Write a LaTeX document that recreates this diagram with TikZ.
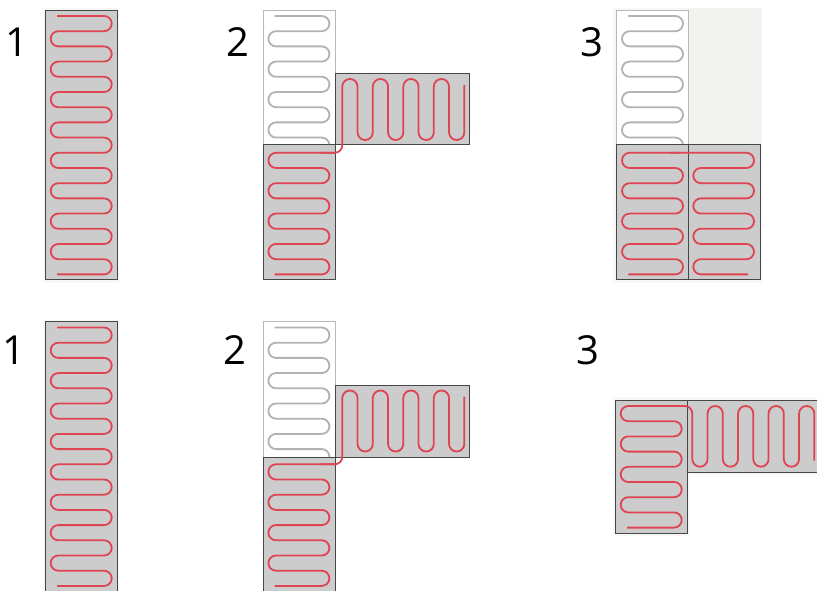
\documentclass[tikz,border=0pt]{standalone}
\usepackage{fontspec}
\setmainfont{Open Sans}
\usepackage{xcolor}
\usepackage{tikz}
\definecolor{padgrey}{HTML}{CBCCCB}
\definecolor{pipered}{HTML}{DF4453}
\definecolor{haloshade}{HTML}{F2F2F1}
\definecolor{halofaint}{HTML}{F7F7F6}

% #1 style, #2 #3 turn columns, #4 height of row 0, #5 first row, #6 last turning row, #7 start x, #8 end x
\newcommand{\rowcoil}[8]{
  \draw[#1] (#7,{#4+#5*15.2})
    \foreach \n in {#5,...,#6} {
      -- ({#2+(1-mod(\n,2))*(#3-#2)},{#4+\n*15.2})
      -- ({#2+(1-mod(\n,2))*(#3-#2)},{#4+(\n+1)*15.2})
    } -- (#8,{#4+(#6+1)*15.2});
}
% #1 column 0, #2 first turn height, #3 second turn height, #4 start x, #5 start height, #6 end height
\newcommand{\colcoil}[6]{
  \draw[pipe] (#4,#5) -- (#1,#5)
    \foreach \k in {0,...,7} {
      -- ({#1+\k*15.25},{#2+mod(\k,2)*(#3-#2)})
      -- ({#1+(\k+1)*15.25},{#2+mod(\k,2)*(#3-#2)})
    } -- ({#1+8*15.25},#6);
}

\begin{document}
\begin{tikzpicture}[
  x=0.75pt,y=-0.75pt,
  pad/.style={draw=black!72,fill=padgrey,line width=0.75pt},
  ghost/.style={draw=black!28,fill=white,line width=0.75pt},
  pipe/.style={draw=pipered,line width=1.35pt,rounded corners=5.7pt},
  ghostpipe/.style={draw=black!30,line width=1.35pt,rounded corners=5.7pt},
  numeral/.style={font=\fontsize{30}{30}\selectfont,inner sep=0pt}
]
\useasboundingbox (0,0) rectangle (817,591);
\clip (0,0) rectangle (817,591);

% faint backgrounds
\fill[halofaint] (43,8) rectangle (119,283);
\fill[halofaint] (43,320) rectangle (119,591);
\fill[halofaint] (613,8) rectangle (690,283);
\fill[haloshade] (688,8) rectangle (762,146);
\fill[halofaint] (688,146) rectangle (762,283);
\fill[halofaint] (613,397) rectangle (690,536);
\fill[halofaint] (690,397) rectangle (817,475);

% upper row
\node[numeral] (numa) at (16.5,42) {1};
\draw[pad] (45,10.5) rectangle (117,280);
\rowcoil{pipe}{50.7}{111.7}{16}{0}{16}{57}{57}

\node[numeral] (numb) at (238,42) {2};
\draw[ghost] (263,10.5) rectangle (335,145);
\rowcoil{ghostpipe}{268.4}{329.4}{16}{0}{8}{274.7}{319}
\draw[pad] (263,145) rectangle (335,280);
\draw[pad] (335,73.5) rectangle (469,145);
\rowcoil{pipe}{268.4}{329.4}{16}{9}{16}{335}{274.7}
\colcoil{342.3}{79}{140}{320}{152.8}{85}

\node[numeral] (numc) at (592,42) {3};
\draw[ghost] (616.5,10.5) rectangle (688.5,145);
\rowcoil{ghostpipe}{622}{683}{16}{0}{8}{628.3}{677}
\draw[pad] (616.5,145) rectangle (760,280);
\draw[black!72,line width=0.75pt] (688.5,145) -- (688.5,280);
\rowcoil{pipe}{622}{683}{16}{9}{16}{680}{628.3}
\rowcoil{pipe}{754}{693.3}{16}{9}{16}{670}{748}

% lower row
\node[numeral] (numd) at (13.5,350) {1};
\draw[pad] (45,322) rectangle (117,600);
\rowcoil{pipe}{50.7}{111.7}{327.5}{0}{16}{57}{57}

\node[numeral] (nume) at (235,350) {2};
\draw[ghost] (263,322) rectangle (335,457);
\rowcoil{ghostpipe}{268.4}{329.4}{327.5}{0}{8}{274.7}{319}
\draw[pad] (263,457) rectangle (335,600);
\draw[pad] (335,385) rectangle (469,457);
\rowcoil{pipe}{268.4}{329.4}{327.5}{9}{16}{335}{274.7}
\colcoil{342.3}{390.5}{451.5}{320}{464.3}{396.5}

\node[numeral] (numf) at (588,350) {3};
\draw[pad] (615,400) rectangle (687,533);
\draw[pad] (687,400) rectangle (830,472.5);
\rowcoil{pipe}{620.7}{681.7}{269.2}{9}{16}{680}{627}
\colcoil{692.3}{466.7}{406}{670}{406}{460.5}
\end{tikzpicture}
\end{document}
